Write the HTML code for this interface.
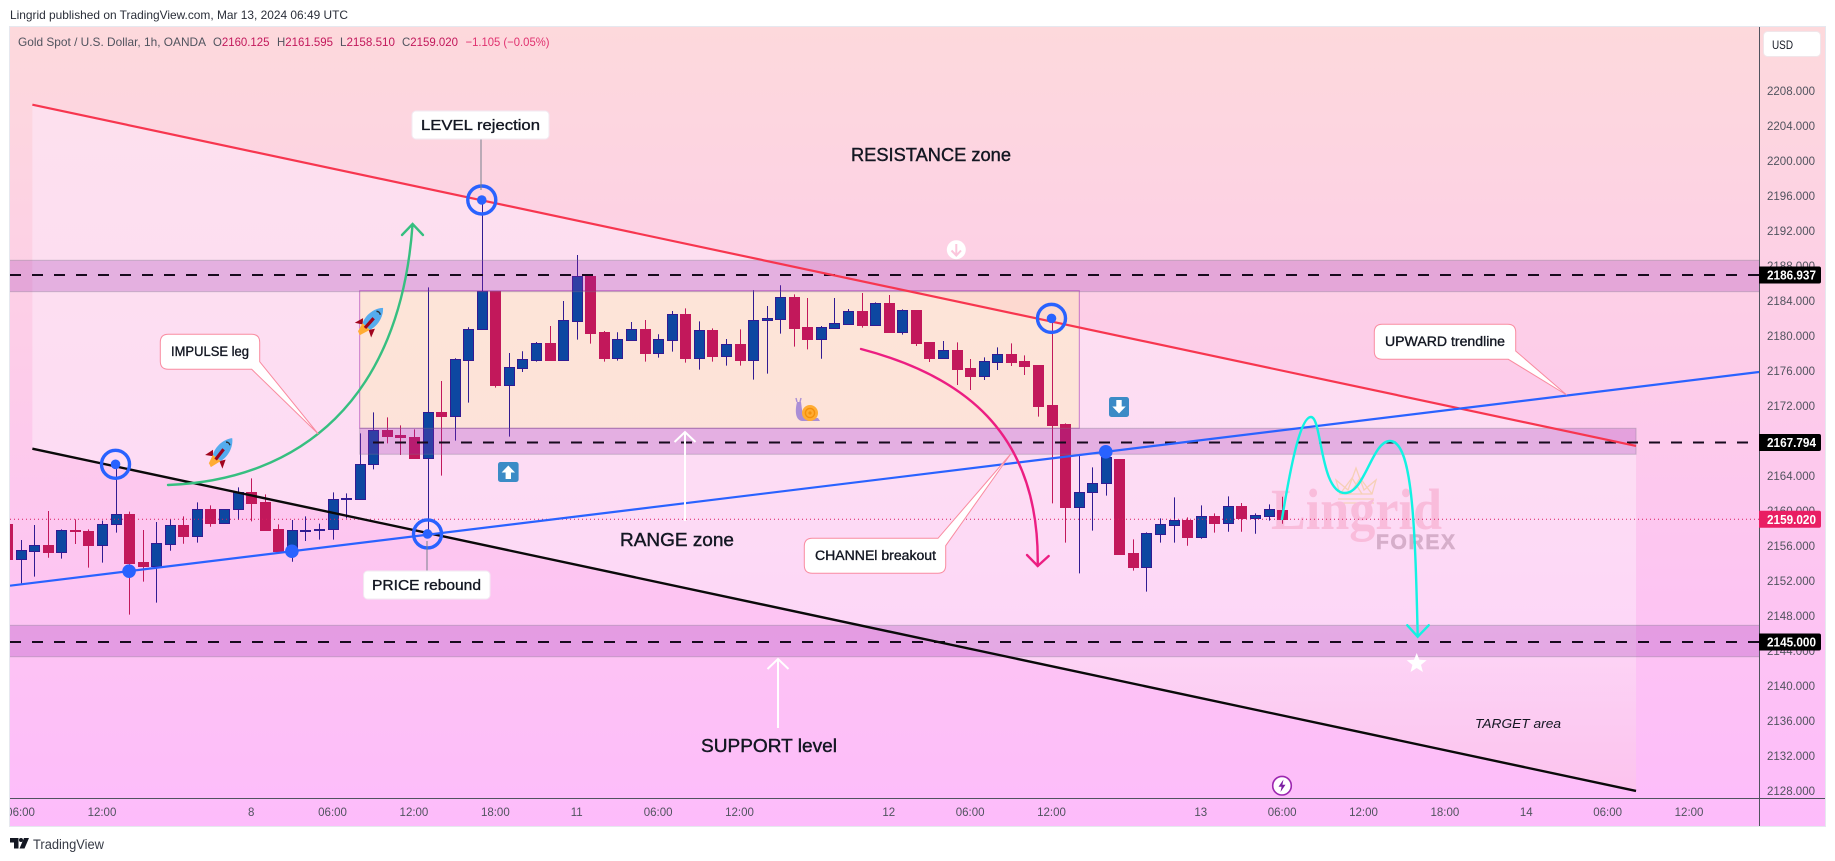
<!DOCTYPE html>
<html lang="en">
<head>
<meta charset="utf-8">
<title>Gold Spot / U.S. Dollar chart</title>
<style>
html,body{margin:0;padding:0;background:#fff;width:1835px;height:861px;overflow:hidden}
svg{display:block}
text{font-family:"Liberation Sans",sans-serif}
.call{font-size:14.5px;fill:#131722;stroke:#131722;stroke-width:.35}
.big{font-size:18px;fill:#131722;stroke:#131722;stroke-width:.4}
</style>
</head>
<body>
<svg id="chart" xmlns="http://www.w3.org/2000/svg" width="1835" height="861" viewBox="0 0 1835 861">
  <defs>
    <linearGradient id="bg" x1="0" y1="0" x2="0" y2="1">
      <stop offset="0" stop-color="#fdd9dc"/>
      <stop offset="1" stop-color="#fdbcfb"/>
    </linearGradient>
    <linearGradient id="channelFillGrad" gradientUnits="userSpaceOnUse" x1="0" y1="105" x2="0" y2="791">
      <stop offset="0" stop-color="#fde0ee"/>
      <stop offset="0.547" stop-color="#fddcf4"/>
      <stop offset="0.75" stop-color="#fdd7f7"/>
      <stop offset="1" stop-color="#fcc3ee"/>
    </linearGradient>
    <clipPath id="plot"><rect x="10" y="27" width="1749" height="771"/></clipPath>
    <clipPath id="axisclip"><rect x="10" y="799" width="1749" height="27"/></clipPath>
  </defs>

  <rect x="0" y="0" width="1835" height="861" fill="#ffffff"/>
  <text x="10" y="19" font-size="12" fill="#2a2e39" textLength="338" lengthAdjust="spacingAndGlyphs">Lingrid published on TradingView.com, Mar 13, 2024 06:49 UTC</text>
  <rect x="9.5" y="26.5" width="1816" height="800" fill="url(#bg)" stroke="#e6e8ef" stroke-width="1"/>

  <g id="under" clip-path="url(#plot)"></g>

  <!-- Watermark -->
  <g>
    <g fill="none" stroke="#f6d0b6" stroke-width="1.3">
      <path d="M1340,494 L1336,480 L1348,490 L1356,468 L1364,490 L1376,480 L1372,494 Z"/>
      <path d="M1340,494 L1352,478 L1362,494 M1372,494 L1360,478 L1350,494"/>
      <path d="M1338,499 H1374 M1338,503 H1374"/>
    </g>
    <text x="1271" y="529" font-size="58" font-weight="700" fill="#f9bcdb" style="font-family:'Liberation Serif',serif" textLength="171" lengthAdjust="spacingAndGlyphs">Lingrid</text>
    <text x="1376" y="549" font-size="21" font-weight="700" fill="#d6aeca" stroke="#d6aeca" stroke-width=".6" textLength="79" lengthAdjust="spacing">FOREX</text>
  </g>

  <g id="candles" clip-path="url(#plot)"></g>
  <g id="over" clip-path="url(#plot)"></g>

  <!-- Curved arrows -->
  <g fill="none" stroke="#36bf80" stroke-width="2.4" stroke-linecap="round">
    <path d="M168,485 C300,480 400,400 412.5,225"/>
    <path d="M402,235 L412.6,224 L423,235"/>
  </g>
  <g fill="none" stroke="#ec1e82" stroke-width="2.4" stroke-linecap="round">
    <path d="M861,349 C960,375 1040,430 1037.7,566"/>
    <path d="M1027,555 L1037.7,566 L1048.7,556"/>
  </g>
  <g fill="none" stroke="#12f2e2" stroke-width="2.4" stroke-linecap="round">
    <path d="M1282,519 C1290,470 1300,417 1311,417 C1322,417 1320,493 1345,493 C1365,493 1372,441 1390,441 C1412,441 1415,520 1417.7,636"/>
    <path d="M1407.3,625.3 L1417.7,636.7 L1428.7,625.3"/>
  </g>

  <!-- White arrows -->
  <g fill="none" stroke="#ffffff" stroke-width="2">
    <path d="M685,432 V521"/><path d="M674.5,442 L685,432 L695.5,442"/>
  </g>
  <g fill="none" stroke="#ffffff" stroke-width="2">
    <path d="M778,659 V728"/><path d="M767.5,669 L778,659 L788.5,669"/>
  </g>

  <!-- Callouts -->
  <g>
    <line x1="481" y1="139" x2="481" y2="190" stroke="#78808c" stroke-width="1"/>
    <rect x="412" y="111" width="137" height="28" rx="4" fill="#ffffff" stroke="#f2eaf2" stroke-width="1"/>
    <text class="call" x="421" y="130" textLength="119" lengthAdjust="spacingAndGlyphs">LEVEL rejection</text>
  </g>
  <g>
    <line x1="427" y1="541" x2="427" y2="571" stroke="#78808c" stroke-width="1"/>
    <rect x="363.6" y="571" width="126.4" height="28" rx="4" fill="#ffffff" stroke="#f2eaf2" stroke-width="1"/>
    <text class="call" x="372" y="590" textLength="109" lengthAdjust="spacingAndGlyphs">PRICE rebound</text>
  </g>
  <g>
    <path d="M168.3,334.3 H251.7 Q259.7,334.3 259.7,342.3 V361.7 L318.3,434 L251.7,369.3 H168.3 Q160.3,369.3 160.3,361.3 V342.3 Q160.3,334.3 168.3,334.3 Z" fill="#ffffff" stroke="#f98ba0" stroke-width="1"/>
    <text class="call" x="171" y="356" style="font-size:13.5px" textLength="78" lengthAdjust="spacingAndGlyphs">IMPULSE leg</text>
  </g>
  <g>
    <path d="M1382.3,324.3 H1507.7 Q1515.7,324.3 1515.7,332.3 V351 L1566.7,395 L1508.3,359.3 H1382.3 Q1374.3,359.3 1374.3,351.3 V332.3 Q1374.3,324.3 1382.3,324.3 Z" fill="#ffffff" stroke="#f98ba0" stroke-width="1"/>
    <text class="call" x="1385" y="346" style="font-size:13.5px" textLength="120" lengthAdjust="spacingAndGlyphs">UPWARD trendline</text>
  </g>
  <g>
    <path d="M812.3,538.3 H938 L1010.7,454 L945.7,545.7 V565.3 Q945.7,573.3 937.7,573.3 H812.3 Q804.3,573.3 804.3,565.3 V546.3 Q804.3,538.3 812.3,538.3 Z" fill="#ffffff" stroke="#f98ba0" stroke-width="1"/>
    <text class="call" x="815" y="560" style="font-size:13.5px" textLength="121" lengthAdjust="spacingAndGlyphs">CHANNEl breakout</text>
  </g>

  <!-- Text notes -->
  <text class="big" x="851" y="161" textLength="160" lengthAdjust="spacingAndGlyphs">RESISTANCE zone</text>
  <text class="big" x="620" y="546" textLength="114" lengthAdjust="spacingAndGlyphs">RANGE zone</text>
  <text class="big" x="701" y="752" textLength="136" lengthAdjust="spacingAndGlyphs">SUPPORT level</text>
  <text x="1475" y="728" font-size="13" font-style="italic" fill="#131722" textLength="86" lengthAdjust="spacingAndGlyphs">TARGET area</text>

  <!-- Icons -->
  <g transform="translate(223,450) rotate(38)">
    <path d="M-8,6 L-11,15 L-4,11 Z" fill="#a0041e"/><path d="M8,6 L11,15 L4,11 Z" fill="#a0041e"/>
    <path d="M-5,10 L5,10 L1,21 L-3,19 Z" fill="#ffac33"/>
    <path d="M0,-15 C7,-8 8,3 5,10 H-5 C-8,3 -7,-8 0,-15 Z" fill="#55acee"/>
    <path d="M-1.6,-1 L1.6,-1 L1.6,12 L-1.6,12 Z" fill="#a0041e"/>
    <path d="M-2.5,-8 A3.5,3.5 0 0 1 2.5,-8" fill="none" stroke="#292f33" stroke-width="1.4"/>
  </g>
  <g transform="translate(373,319) rotate(42)">
    <path d="M-8,6 L-11,15 L-4,11 Z" fill="#a0041e"/><path d="M8,6 L11,15 L4,11 Z" fill="#a0041e"/>
    <path d="M-5,10 L5,10 L1,21 L-3,19 Z" fill="#ffac33"/>
    <path d="M0,-15 C7,-8 8,3 5,10 H-5 C-8,3 -7,-8 0,-15 Z" fill="#55acee"/>
    <path d="M-1.6,-1 L1.6,-1 L1.6,12 L-1.6,12 Z" fill="#a0041e"/>
    <path d="M-2.5,-8 A3.5,3.5 0 0 1 2.5,-8" fill="none" stroke="#292f33" stroke-width="1.4"/>
  </g>
  <g>
    <path d="M797,402 C795,410 795,420 802,421 H820 L818,418 H806 C802,416 802,408 801,402 Z" fill="#aa8ed6"/>
    <line x1="797" y1="402" x2="796" y2="398" stroke="#aa8ed6" stroke-width="1.4"/>
    <line x1="800" y1="402" x2="801" y2="398" stroke="#aa8ed6" stroke-width="1.4"/>
    <circle cx="810" cy="413" r="8" fill="#ffac33"/>
    <circle cx="810" cy="413" r="4.6" fill="none" stroke="#f4900c" stroke-width="1.4"/>
    <circle cx="810" cy="413" r="1.6" fill="#f4900c"/>
  </g>
  <g>
    <rect x="498" y="462" width="20.6" height="20" rx="2.5" fill="#3b8bc6"/>
    <path d="M508.3,465.5 L515,472.5 H511 V479 H505.6 V472.5 H501.6 Z" fill="#ffffff"/>
  </g>
  <g>
    <rect x="1109" y="397" width="20" height="20" rx="2.5" fill="#3b8bc6"/>
    <path d="M1119,413.5 L1125.7,406.5 H1121.7 V400 H1116.3 V406.5 H1112.3 Z" fill="#ffffff"/>
  </g>
  <g>
    <circle cx="956.3" cy="249.7" r="9.5" fill="#ffffff"/>
    <path d="M956.3,244 V255 M951.5,250.5 L956.3,255.5 L961,250.5" fill="none" stroke="#fbc6dc" stroke-width="2"/>
  </g>
  <polygon fill="#ffffff" points="1416.7,653 1419.4,659.8 1426.7,660.2 1421,664.9 1422.9,672 1416.7,668 1410.5,672 1412.4,664.9 1406.7,660.2 1414,659.8"/>
  <g>
    <circle cx="1282" cy="785.7" r="9.3" fill="#ffffff" stroke="#9c27b0" stroke-width="1.6"/>
    <path d="M1283.5,779.5 L1278.5,786.7 H1281.6 L1280.5,792 L1285.5,784.7 H1282.4 Z" fill="#7b1fa2"/>
  </g>

  <!-- Axes -->
  <line x1="1759.5" y1="27" x2="1759.5" y2="826" stroke="#50535e" stroke-width="1"/>
  <line x1="10" y1="798.5" x2="1825" y2="798.5" stroke="#50535e" stroke-width="1"/>
  <g id="priceAxis"></g>
  <g id="timeAxis" clip-path="url(#axisclip)"></g>
  <g id="priceTags"></g>

  <g>
    <rect x="1763.5" y="31.5" width="57" height="25" rx="4" fill="#ffffff" stroke="#f0e6ea" stroke-width="1"/>
    <text x="1772" y="49" font-size="12" fill="#131722" textLength="21" lengthAdjust="spacingAndGlyphs">USD</text>
  </g>

  <!-- Legend -->
  <g font-size="12">
    <text x="18" y="46" fill="#50535e" textLength="188" lengthAdjust="spacingAndGlyphs">Gold Spot / U.S. Dollar, 1h, OANDA</text>
    <text x="213" y="46" fill="#c2185b" textLength="56.5" lengthAdjust="spacingAndGlyphs"><tspan fill="#50535e">O</tspan>2160.125</text>
    <text x="277" y="46" fill="#c2185b" textLength="56" lengthAdjust="spacingAndGlyphs"><tspan fill="#50535e">H</tspan>2161.595</text>
    <text x="340" y="46" fill="#c2185b" textLength="55" lengthAdjust="spacingAndGlyphs"><tspan fill="#50535e">L</tspan>2158.510</text>
    <text x="402" y="46" fill="#c2185b" textLength="56" lengthAdjust="spacingAndGlyphs"><tspan fill="#50535e">C</tspan>2159.020</text>
    <text x="465.5" y="46" fill="#e0316f" textLength="84" lengthAdjust="spacingAndGlyphs">−1.105 (−0.05%)</text>
  </g>

  <!-- Footer logo -->
  <g>
    <path d="M10,838 H18.5 V848.5 H14 V842.5 H10 Z" fill="#131722"/>
    <circle cx="21" cy="840" r="2" fill="#131722"/>
    <path d="M24,838 H29 L24.5,848.5 H19.5 Z" fill="#131722"/>
    <text x="33" y="849" font-size="13.5" fill="#363a45" textLength="71" lengthAdjust="spacingAndGlyphs">TradingView</text>
  </g>

<script>
// ---------- Chart data ----------
const opens = [2158.48,2154.52,2155.43,2156.08,2155.32,2157.79,2157.68,2156.12,2158.44,2159.58,2154.14,2153.72,2156.23,2158.33,2157.15,2160.15,2158.63,2160.15,2162.10,2160.95,2157.87,2155.32,2157.68,2157.87,2157.87,2161.37,2161.34,2165.30,2169.18,2168.65,2168.38,2166.06,2171.28,2170.86,2177.26,2180.73,2185.11,2174.41,2176.35,2177.26,2179.13,2177.26,2181.72,2186.83,2180.39,2177.49,2179.55,2180.73,2178.06,2179.55,2182.44,2177.49,2180.62,2177.72,2179.02,2177.26,2181.76,2181.95,2184.39,2180.99,2179.66,2180.88,2181.34,2182.78,2181.26,2183.70,2180.46,2182.90,2179.24,2177.49,2178.33,2176.27,2175.43,2177.03,2177.87,2177.07,2176.61,2172.04,2169.91,2160.46,2162.10,2163.13,2165.91,2155.13,2153.60,2157.37,2158.40,2158.90,2157.03,2159.35,2158.63,2160.50,2159.20,2159.43,2160.125];
const highs = [2159.5,2156.65,2158.36,2159.96,2157.87,2159.01,2157.87,2158.86,2165.30,2159.89,2157.79,2158.71,2159.01,2159.35,2160.95,2160.61,2160.15,2162.67,2163.70,2161.87,2158.44,2158.94,2159.35,2158.52,2162.10,2161.98,2168.84,2171.24,2170.67,2169.75,2169.30,2185.53,2174.83,2177.42,2180.96,2195.51,2185.11,2178.03,2178.22,2179.28,2181.11,2183.97,2189.23,2186.83,2180.54,2180.39,2181.57,2181.80,2180.16,2182.83,2183.13,2181.64,2180.84,2179.63,2180.73,2185.19,2183.40,2185.76,2184.73,2184.31,2181.11,2184.31,2183.05,2184.88,2183.81,2184.65,2183.01,2182.94,2179.24,2179.39,2179.24,2177.34,2177.53,2178.67,2179.13,2177.75,2176.61,2181.98,2169.98,2166.36,2164.95,2167.13,2165.91,2156.73,2157.53,2159.13,2161.53,2159.24,2160.61,2159.70,2161.64,2160.88,2159.70,2160.73,2161.595];
const lows = [2151.5,2151.70,2152.46,2154.63,2154.52,2156.19,2153.49,2154.06,2157.49,2148.12,2151.89,2149.49,2155.43,2156.23,2156.35,2158.17,2158.52,2158.94,2158.78,2157.83,2155.20,2154.17,2156.54,2156.69,2156.69,2159.13,2161.22,2164.73,2167.70,2166.36,2166.06,2157.34,2164.01,2168.01,2172.35,2180.73,2174.06,2168.46,2175.85,2177.04,2177.26,2177.26,2179.55,2179.09,2177.04,2177.15,2179.55,2177.04,2177.49,2178.18,2176.92,2176.12,2177.04,2176.58,2176.58,2174.98,2175.66,2180.24,2178.75,2178.44,2177.37,2180.88,2181.30,2180.92,2181.26,2180.46,2180.12,2178.82,2176.99,2177.34,2174.36,2173.79,2174.94,2176.08,2176.54,2175.51,2170.75,2160.84,2156.35,2152.84,2157.72,2161.72,2154.94,2153.15,2150.75,2156.35,2156.35,2156.00,2156.80,2157.49,2157.60,2157.60,2157.37,2158.86,2158.51];
const closes = [2154.52,2155.51,2156.08,2155.32,2157.75,2157.68,2156.12,2158.44,2159.58,2154.06,2153.72,2156.31,2158.33,2157.15,2160.15,2158.63,2160.15,2162.10,2160.92,2157.83,2155.39,2157.75,2157.75,2157.95,2161.30,2161.45,2165.30,2169.18,2168.57,2168.38,2166.06,2171.24,2170.86,2177.30,2180.73,2185.11,2174.41,2176.39,2177.30,2179.13,2177.26,2181.76,2186.79,2180.35,2177.49,2179.59,2180.73,2178.06,2179.59,2182.44,2177.49,2180.62,2177.72,2179.02,2177.26,2181.76,2181.99,2184.39,2180.92,2179.66,2180.95,2181.41,2182.78,2181.26,2183.70,2180.46,2182.90,2179.20,2177.49,2178.33,2176.23,2175.43,2177.07,2177.87,2177.03,2176.57,2172.00,2169.83,2160.46,2162.10,2163.13,2166.17,2155.09,2153.60,2157.41,2158.44,2158.90,2157.03,2159.35,2158.63,2160.50,2159.20,2159.47,2160.15,2159.02];

const priceTicks = [2208,2204,2200,2196,2192,2188,2184,2180,2176,2172,2168,2164,2160,2156,2152,2148,2144,2140,2136,2132,2128];
const timeTickBars = [1,7,18,24,30,36,42,48,54,65,71,77,88,94,100,106,112,118,124];
const timeTickLabels = ["06:00","12:00","8","06:00","12:00","18:00","11","06:00","12:00","12","06:00","12:00","13","06:00","12:00","18:00","14","06:00","12:00"];

const levelPrices = [2186.937,2167.794,2145.000];
const lastPrice = 2159.02;

const resistanceZone = [2188.62,2185.03];
const middleZone = [2169.42,2166.45];
const supportZone = [2146.90,2143.31];
const rangeBoxBars = [26,79.05];
const rangeBoxPrices = [2185.14,2169.42];

const redLineBars = [1.87,120.09];
const redLinePrices = [2206.4,2167.4];
const blackLineBars = [1.87,120.09];
const blackLinePrices = [2167.09,2127.97];
const blueLineBars = [0.22,129.16];
const blueLinePrices = [2151.43,2175.85];

const ringHighBars = [8,35,77];
const ringLowBars = [31];
const blueDotBars = [9,21,81];

// ---------- Axis functions ----------
const barWidth = 10;
function xOf(bar){ return 7 + 13.565 * bar; }
function yOf(price){ return 90.7 + (2208 - price) * 8.75; }

const SVGNS = 'http://www.w3.org/2000/svg';
function mk(tag, attrs, parent){
  const el = document.createElementNS(SVGNS, tag);
  for (const k in attrs) el.setAttribute(k, attrs[k]);
  parent.appendChild(el);
  return el;
}
const under = document.getElementById('under');
const over = document.getElementById('over');
const candles = document.getElementById('candles');
const priceAxis = document.getElementById('priceAxis');
const timeAxis = document.getElementById('timeAxis');
const priceTags = document.getElementById('priceTags');

// ---------- Channel fill between red and black lines ----------
const channel = mk('polygon', {
  points: [
    xOf(redLineBars[0])+','+yOf(redLinePrices[0]),
    xOf(redLineBars[1])+','+yOf(redLinePrices[1]),
    xOf(blackLineBars[1])+','+yOf(blackLinePrices[1]),
    xOf(blackLineBars[0])+','+yOf(blackLinePrices[0])
  ].join(' '),
  fill: 'url(#channelFillGrad)'
}, under);



// ---------- Range box ----------
const rangeBox = mk('rect', {
  x: xOf(rangeBoxBars[0]),
  y: yOf(rangeBoxPrices[0]),
  width: xOf(rangeBoxBars[1]) - xOf(rangeBoxBars[0]),
  height: yOf(rangeBoxPrices[1]) - yOf(rangeBoxPrices[0]),
  fill: 'rgba(255,245,150,0.28)',
  stroke: 'rgba(156,39,176,0.55)',
  'stroke-width': 1
}, under);



// ---------- Candles ----------
for (let i = 0; i < closes.length; i++) {
  const up = closes[i] >= opens[i];
  const stroke = up ? '#311b92' : '#c2185b';
  const fill = up ? '#0d47a1' : '#c2185b';
  const cx = Math.round(xOf(i)) + 0.5;
  const top = Math.round(yOf(Math.max(opens[i], closes[i])));
  const bottom = Math.round(yOf(Math.min(opens[i], closes[i])));
  const g = mk('g', {}, candles);
  
  
  const wick = mk('line', {x1: cx, x2: cx, y1: yOf(highs[i]), y2: yOf(lows[i]), stroke: stroke, 'stroke-width': 1}, g);
  
  
  const body = mk('rect', {x: cx - barWidth / 2, y: top + 0.5, width: barWidth, height: Math.max(bottom - top, 1), fill: fill, stroke: stroke, 'stroke-width': 1}, g);
  
  
}

// ---------- Zones ----------
function zone(prices, x1, x2){
  return mk('rect', {
    x: x1, y: yOf(prices[0]), width: x2 - x1, height: yOf(prices[1]) - yOf(prices[0]),
    fill: 'rgba(156,39,176,0.25)', stroke: 'rgba(120,123,134,0.35)', 'stroke-width': 1
  }, over);
}
const zoneA = zone(resistanceZone, 9, 1760);


const zoneB = zone(middleZone, xOf(rangeBoxBars[0]), xOf(redLineBars[1]));


const zoneC = zone(supportZone, 9, 1760);



// ---------- Horizontal levels ----------
function dashed(price, x1, x2){
  return mk('line', {x1: x1, x2: x2, y1: yOf(price), y2: yOf(price), stroke: '#170a1e', 'stroke-width': 2, 'stroke-dasharray': '11 11'}, over);
}
const levelA = dashed(levelPrices[0], 10, 1759);


const levelB = dashed(levelPrices[1], 373, 1748);


const levelC = dashed(levelPrices[2], 10, 1759);



const lastLine = mk('line', {x1: 10, x2: 1759, y1: yOf(lastPrice), y2: yOf(lastPrice), stroke: '#d81b60', 'stroke-width': 1, 'stroke-dasharray': '1 3'}, over);



// ---------- Trendlines ----------
function trend(bars, prices, color, w){
  return mk('line', {x1: xOf(bars[0]), y1: yOf(prices[0]), x2: xOf(bars[1]), y2: yOf(prices[1]), stroke: color, 'stroke-width': w}, over);
}
const blackLine = trend(blackLineBars, blackLinePrices, '#0a0a0a', 2.4);


const redLine = trend(redLineBars, redLinePrices, '#f7364f', 2.2);


const blueLine = trend(blueLineBars, blueLinePrices, '#2962ff', 2.2);



// ---------- Markers ----------
function ring(bar, price){
  const g = mk('g', {}, over);
  
  
  mk('circle', {cx: xOf(bar) , cy: yOf(price), r: 14, fill: 'none', stroke: '#2962ff', 'stroke-width': 3.4}, g);
  mk('circle', {cx: xOf(bar), cy: yOf(price), r: 4.8, fill: '#2962ff'}, g);
}
ringHighBars.forEach(function(b){ ring(b, highs[b]); });
ringLowBars.forEach(function(b){ ring(b, lows[b]); });

const blueSlope = (blueLinePrices[1] - blueLinePrices[0]) / (blueLineBars[1] - blueLineBars[0]);
blueDotBars.forEach(function(b){
  const price = blueLinePrices[0] + (b - blueLineBars[0]) * blueSlope;
  const dot = mk('circle', {cx: xOf(b), cy: yOf(price), r: 6.8, fill: '#2962ff'}, over);
  
  
});

// ---------- Price axis ----------
priceTicks.forEach(function(p){
  const t = mk('text', {x: 1767, y: yOf(p) + 4.2, 'font-size': 11.5, fill: '#50535e', textLength: 48, lengthAdjust: 'spacingAndGlyphs'}, priceAxis);
  
  
  t.textContent = p.toFixed(3);
});

// ---------- Price tags ----------
function tag(price, color){
  const g = mk('g', {}, priceTags);
  const y = yOf(price);
  mk('path', {d: 'M1759,' + (y - 8.5) + ' H1819 Q1821,' + (y - 8.5) + ' 1821,' + (y - 6.5) + ' V' + (y + 6.5) + ' Q1821,' + (y + 8.5) + ' 1819,' + (y + 8.5) + ' H1759 Z', fill: color}, g);
  const t = mk('text', {x: 1767, y: y + 4.5, 'font-size': 12.5, 'font-weight': 700, fill: '#ffffff', textLength: 49, lengthAdjust: 'spacingAndGlyphs'}, g);
  t.textContent = price.toFixed(3);
  return g;
}
const tagA = tag(levelPrices[0], '#000000');


const tagB = tag(levelPrices[1], '#000000');


const tagC = tag(levelPrices[2], '#000000');


const tagD = tag(lastPrice, '#e91e63');



// ---------- Time axis ----------
timeTickLabels.forEach(function(label, i){
  const t = mk('text', {x: xOf(timeTickBars[i]), y: 816, 'font-size': 11.5, fill: '#50535e', 'text-anchor': 'middle'}, timeAxis);
  
  
  t.textContent = label;
});
</script>
</svg>
</body>
</html>
